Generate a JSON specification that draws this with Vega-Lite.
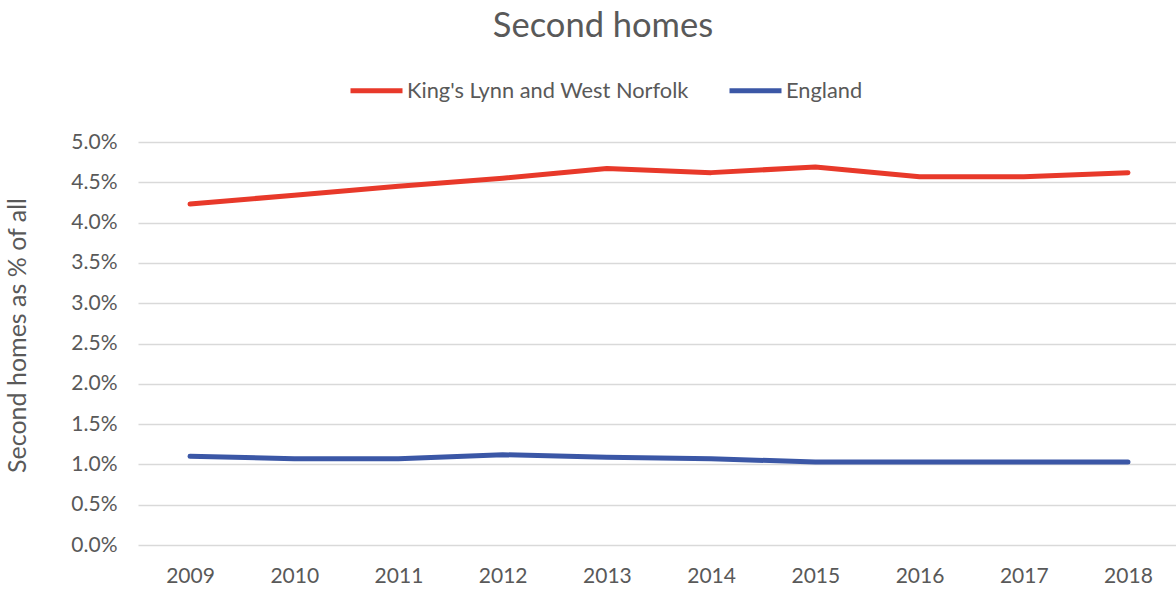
{
  "$schema": "https://vega.github.io/schema/vega-lite/v6.json",
  "autosize": "none",
  "width": 1038,
  "height": 403,
  "padding": {"left": 138, "top": 142, "right": 0, "bottom": 45},
  "background": "white",
  "title": {
    "text": "Second homes",
    "font": "Lato",
    "fontSize": 34.5,
    "fontWeight": "normal",
    "color": "#595959",
    "anchor": "middle",
    "frame": "group",
    "dx": -54,
    "offset": 18
  },
  "data": {
    "values": [
      {"year": "2009", "area": "King's Lynn and West Norfolk", "pct": 0.0423},
      {"year": "2010", "area": "King's Lynn and West Norfolk", "pct": 0.0434},
      {"year": "2011", "area": "King's Lynn and West Norfolk", "pct": 0.0445},
      {"year": "2012", "area": "King's Lynn and West Norfolk", "pct": 0.0455},
      {"year": "2013", "area": "King's Lynn and West Norfolk", "pct": 0.0467},
      {"year": "2014", "area": "King's Lynn and West Norfolk", "pct": 0.0462},
      {"year": "2015", "area": "King's Lynn and West Norfolk", "pct": 0.0469},
      {"year": "2016", "area": "King's Lynn and West Norfolk", "pct": 0.0457},
      {"year": "2017", "area": "King's Lynn and West Norfolk", "pct": 0.0457},
      {"year": "2018", "area": "King's Lynn and West Norfolk", "pct": 0.0462},
      {"year": "2009", "area": "England", "pct": 0.0110},
      {"year": "2010", "area": "England", "pct": 0.0107},
      {"year": "2011", "area": "England", "pct": 0.0107},
      {"year": "2012", "area": "England", "pct": 0.0112},
      {"year": "2013", "area": "England", "pct": 0.0109},
      {"year": "2014", "area": "England", "pct": 0.0107},
      {"year": "2015", "area": "England", "pct": 0.0103},
      {"year": "2016", "area": "England", "pct": 0.0103},
      {"year": "2017", "area": "England", "pct": 0.0103},
      {"year": "2018", "area": "England", "pct": 0.0103}
    ]
  },
  "mark": {"type": "line", "strokeWidth": 5, "strokeCap": "round", "strokeJoin": "round"},
  "encoding": {
    "x": {
      "field": "year",
      "type": "ordinal",
      "scale": {"type": "point", "padding": 0.48, "align": 0.52},
      "axis": {
        "title": null,
        "labelAngle": 0,
        "labelFont": "Lato",
        "labelFontSize": 21,
        "labelColor": "#595959",
        "labelPadding": 20,
        "ticks": false,
        "domain": false,
        "grid": false
      }
    },
    "y": {
      "field": "pct",
      "type": "quantitative",
      "scale": {"domain": [0, 0.05], "nice": false},
      "axis": {
        "title": "Second homes as % of all",
        "titleFont": "Lato",
        "titleFontSize": 25,
        "titleFontWeight": "normal",
        "titleColor": "#595959",
        "titlePadding": 40,
        "titleY": 193,
        "values": [0, 0.005, 0.01, 0.015, 0.02, 0.025, 0.03, 0.035, 0.04, 0.045, 0.05],
        "format": ".1%",
        "labelFont": "Lato",
        "labelFontSize": 21,
        "labelColor": "#595959",
        "labelPadding": 21,
        "ticks": false,
        "domain": false,
        "grid": true,
        "gridColor": "#d9d9d9",
        "gridWidth": 1.3
      }
    },
    "color": {
      "field": "area",
      "type": "nominal",
      "sort": ["King's Lynn and West Norfolk", "England"],
      "scale": {"domain": ["King's Lynn and West Norfolk", "England"], "range": ["#E8392A", "#3B57A6"]},
      "legend": {
        "title": null,
        "orient": "none",
        "direction": "horizontal",
        "legendX": 210,
        "legendY": -80,
        "symbolType": "stroke",
        "symbolSize": 2704,
        "symbolStrokeWidth": 5,
        "labelFont": "Lato",
        "labelFontSize": 21.8,
        "labelColor": "#595959",
        "labelOffset": 2,
        "columnPadding": 30,
        "labelLimit": 400
      }
    }
  },
  "config": {"view": {"stroke": null}}
}
